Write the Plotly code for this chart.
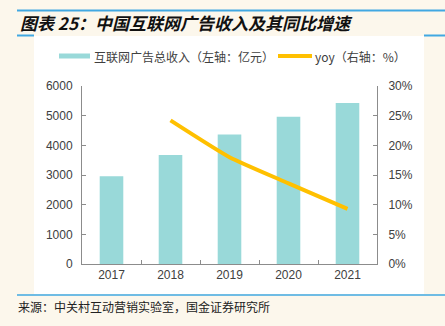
import plotly.graph_objects as go

years = ["2017", "2018", "2019", "2020", "2021"]
revenue = [2960, 3670, 4365, 4960, 5430]          # 亿元
yoy = [None, 0.242, 0.180, 0.136, 0.093]           # 同比

title_text = "图表 25：中国互联网广告收入及其同比增速"
legend_bar = "互联网广告总收入（左轴：亿元）"
legend_line = "yoy（右轴：%）"
source_text = "来源：中关村互动营销实验室，国金证券研究所"

W, H = 445, 326
L, R, T, B = 82, 377, 86, 264   # plot area pixel bounds

def px(x):
    return (x - L) / (R - L)

def py(y):
    return (B - y) / (B - T)

BLUE = "#41a8e2"
CREAM = "#fcf7ec"
BAR = "#99d9d9"
LINE = "#ffc000"
AX = "#8c8c8c"
TXT = "#404040"
CJK = "Noto Sans CJK SC"
LAT = "Liberation Sans, Arial"

fig = go.Figure()
fig.add_trace(go.Bar(x=years, y=revenue, marker_color=BAR, marker_line_width=0,
                     name=legend_bar, showlegend=False))
fig.add_trace(go.Scatter(x=years, y=yoy, yaxis="y2", mode="lines",
                         line=dict(color=LINE, width=4, shape="spline", smoothing=0.5),
                         name=legend_line, showlegend=False, connectgaps=False))

shapes = [
    dict(type="rect", xref="paper", yref="paper", x0=px(34), x1=px(424), y0=py(294), y1=py(36),
         fillcolor="white", line_width=0, layer="below"),
    dict(type="line", xref="paper", yref="paper", x0=px(17), x1=px(445), y0=py(10.5), y1=py(10.5),
         line=dict(color=BLUE, width=2)),
    dict(type="line", xref="paper", yref="paper", x0=px(17), x1=px(34), y0=py(35.5), y1=py(35.5),
         line=dict(color=BLUE, width=2)),
    dict(type="line", xref="paper", yref="paper", x0=px(424), x1=px(445), y0=py(35.5), y1=py(35.5),
         line=dict(color=BLUE, width=2)),
    dict(type="line", xref="paper", yref="paper", x0=px(17), x1=px(445), y0=py(295), y1=py(295),
         line=dict(color=BLUE, width=1.5)),
    dict(type="rect", xref="paper", yref="paper", x0=px(59), x1=px(90), y0=py(58.5), y1=py(53.5),
         fillcolor=BAR, line_width=0),
    dict(type="line", xref="paper", yref="paper", x0=px(278), x1=px(312), y0=py(56), y1=py(56),
         line=dict(color=LINE, width=4)),
]

annotations = [
    dict(text="<b><i>" + title_text + "</i></b>", xref="paper", yref="paper",
         x=px(18), y=py(22), xanchor="left", yanchor="middle", showarrow=False,
         font=dict(family=CJK, size=17, color="#111111")),
    dict(text=legend_bar, xref="paper", yref="paper", x=px(92), y=py(56),
         xanchor="left", yanchor="middle", showarrow=False,
         font=dict(family=CJK, size=12, color=TXT)),
    dict(text=legend_line, xref="paper", yref="paper", x=px(313), y=py(56),
         xanchor="left", yanchor="middle", showarrow=False,
         font=dict(family=CJK, size=12, color=TXT)),
    dict(text=source_text, xref="paper", yref="paper", x=px(16), y=py(306),
         xanchor="left", yanchor="middle", showarrow=False,
         font=dict(family=CJK, size=12, color="#222222")),
]

fig.update_layout(
    width=W, height=H,
    margin=dict(l=L, r=W - R, t=T, b=H - B, pad=0),
    paper_bgcolor=CREAM, plot_bgcolor="rgba(0,0,0,0)",
    bargap=0.6, showlegend=False,
    shapes=shapes, annotations=annotations,
    xaxis=dict(type="category", showline=True, linecolor=AX, linewidth=1,
               ticks="inside", tickson="boundaries", ticklen=4, tickcolor=AX,
               showgrid=False, tickfont=dict(family=LAT, size=12, color=TXT)),
    yaxis=dict(range=[0, 6000], dtick=1000, showline=True, linecolor=AX, linewidth=1,
               ticks="inside", ticklen=4, tickcolor=AX, showgrid=False, zeroline=False,
               tickfont=dict(family=LAT, size=12, color=TXT), ticklabelstandoff=6),
    yaxis2=dict(range=[0, 0.3], dtick=0.05, tickformat=".0%", overlaying="y", side="right",
                showline=True, linecolor=AX, linewidth=1, ticks="inside", ticklen=4,
                tickcolor=AX, showgrid=False, zeroline=False,
                tickfont=dict(family=LAT, size=12, color=TXT), ticklabelstandoff=8),
)

fig.write_html("out.html")
